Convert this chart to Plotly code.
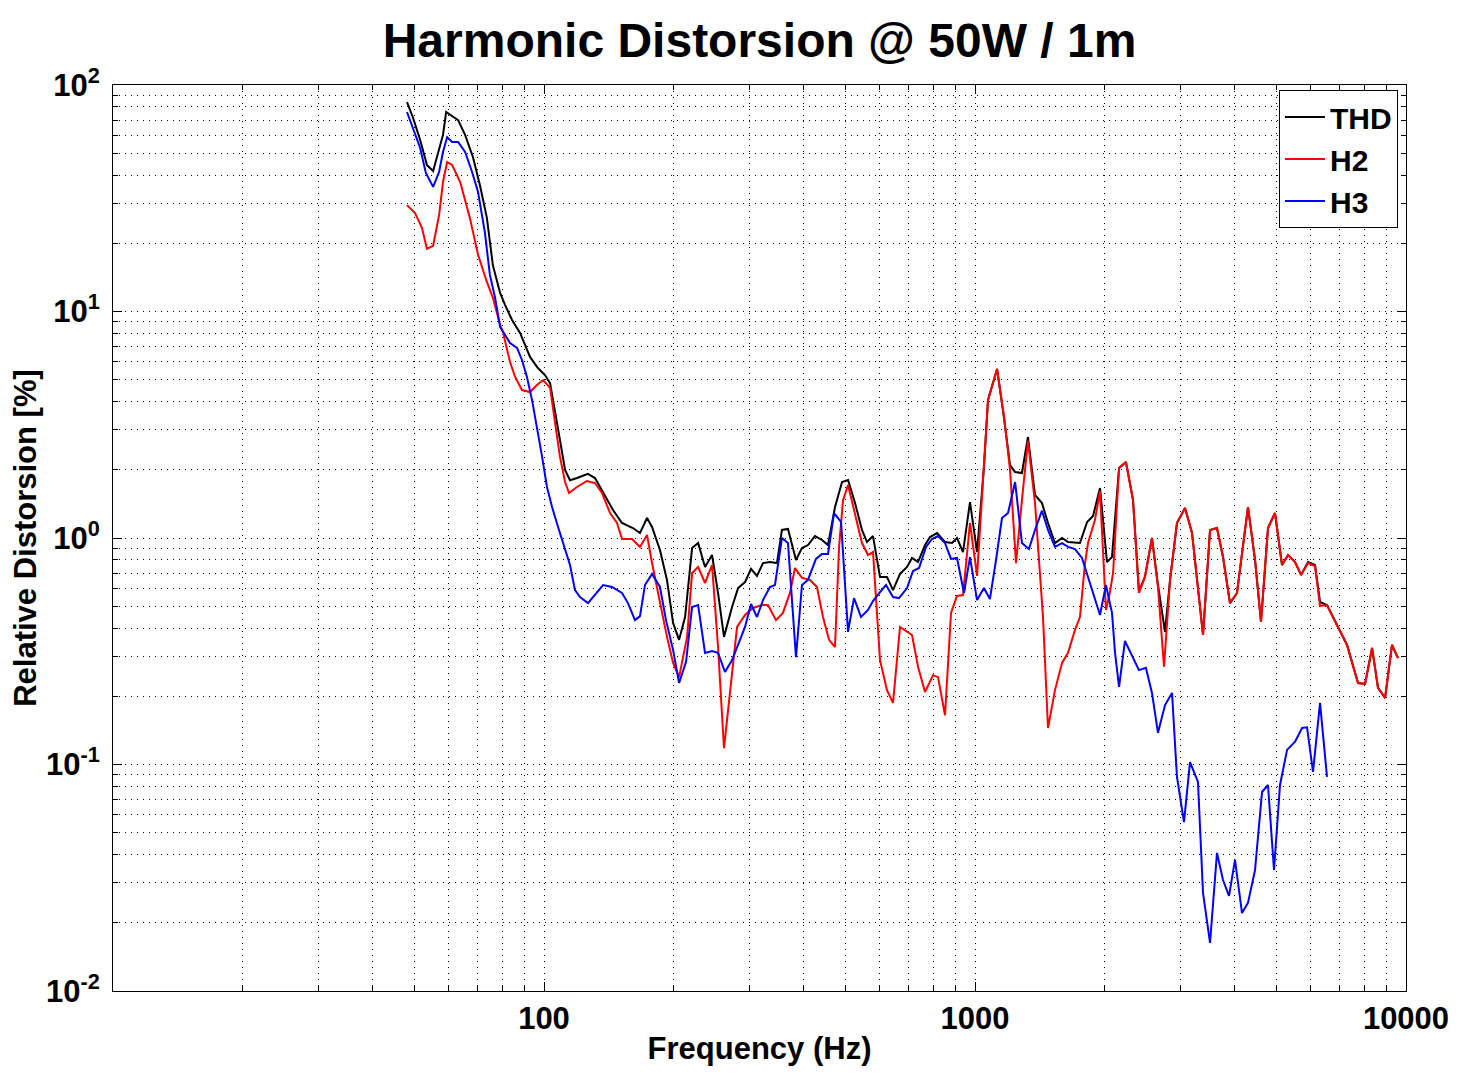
import plotly.graph_objects as go

# ---------------- data ----------------
thd_freq = [48.1, 49.7, 51.6, 53.5, 55.3, 57.1, 58.3, 59.3, 61.2, 63.2, 65.6, 68.4, 71.0, 73.7, 76.1,
            79.1, 81.2, 84.3, 88.0, 92.8, 96.8, 100.5, 103.3, 106.1, 108.9, 111.9, 114.9, 119.3, 126.5,
            131.3, 137.1, 144.6, 151.7, 160.8, 167.0, 173.4, 178.1, 185.8, 192.9, 199.3, 205.8, 212.5,
            220.6, 227.8, 236.4, 245.4, 253.4, 261.6, 273.1, 282.0, 292.7, 302.2, 312.0, 322.2, 334.4,
            347.1, 356.5, 368.2, 384.3, 396.8, 409.7, 425.3, 441.6, 456.0, 473.4, 491.5, 507.5, 526.8,
            546.7, 561.6, 579.9, 602.0, 624.9, 645.3, 669.9, 695.5, 714.3, 737.6, 765.7, 786.4, 816.3,
            852.0, 884.4, 908.3, 938.0, 973.6, 1011, 1049, 1072, 1125, 1161, 1206, 1239, 1285, 1327,
            1378, 1430, 1477, 1533, 1592, 1644, 1752, 1820, 1879, 1950, 2024, 2079, 2159, 2240, 2326,
            2401, 2479, 2574, 2658, 2760, 2835, 2942, 3071, 3188, 3291, 3381, 3510, 3643, 3762, 3905,
            4054, 4299, 4464, 4609, 4784, 4967, 5156, 5325, 5528, 5708, 5926, 6150, 6317, 6557, 6769,
            7298, 7738, 8036, 8342, 8610, 8942, 9280, 9581]
thd = [84.1, 71.5, 57.2, 44.4, 41.7, 51.6, 60.2, 76.0, 73.0, 70.0, 60.2, 48.1, 36.2, 25.9, 16.0,
       12.07, 10.7, 9.17, 8.04, 6.30, 5.63, 5.24, 4.83, 3.67, 2.71, 2.00, 1.80, 1.84, 1.92,
       1.84, 1.60, 1.33, 1.165, 1.107, 1.052, 1.225, 1.118, 0.885, 0.653, 0.421, 0.355, 0.448,
       0.903, 0.950, 0.745, 0.841, 0.572, 0.366, 0.496, 0.601, 0.639, 0.730, 0.680, 0.775, 0.783,
       0.775, 1.085, 1.096, 0.800, 0.903, 0.931, 1.020, 0.980, 0.931, 1.370, 1.767, 1.804, 1.427,
       1.085, 0.960, 1.020, 0.673, 0.673, 0.589, 0.694, 0.745, 0.816, 0.783, 0.931, 1.010, 1.052,
       0.960, 0.950, 1.000, 0.867, 1.441, 0.867, 2.058, 4.07, 5.574, 3.673, 2.100, 1.956, 1.936, 2.792,
       1.548, 1.427, 1.165, 0.950, 1.000, 0.960, 0.950, 1.177, 1.251, 1.663, 0.783, 0.824, 2.037, 2.165, 1.47,
       0.583, 0.673, 1.000, 0.620, 0.385, 0.653, 1.165, 1.357, 1.052, 0.608, 0.373, 1.085, 1.107, 0.824, 0.516,
       0.572, 1.370, 0.800, 0.426, 1.107, 1.289, 0.760, 0.841, 0.783, 0.687, 0.783, 0.760, 0.522, 0.506, 0.448,
       0.337, 0.229, 0.227, 0.327, 0.218, 0.197, 0.337, 0.295]

h2_freq = [48.1, 50.2, 52.1, 53.5, 55.3, 57.1, 58.3, 59.6, 61.2, 63.9, 67.3, 70.3, 73.7, 76.1, 79.1,
           80.4, 83.4, 85.7, 88.9, 92.8, 96.3, 99.5, 103.3, 106.1, 108.9, 111.9, 114.3, 119.3, 125.8,
           131.3, 136.3, 142.3, 147.7, 151.7, 160.0, 167.0, 173.4, 178.1, 185.8, 192.9, 199.3, 205.8,
           214.8, 220.6, 227.8, 236.4, 245.4, 253.4, 261.6, 270.2, 280.5, 292.7, 305.4, 320.5, 330.9,
           345.3, 358.4, 372.2, 382.3, 396.8, 414.1, 429.9, 443.9, 458.5, 473.4, 483.7, 494.1, 507.5,
           526.8, 546.7, 564.6, 579.9, 602.0, 624.9, 645.3, 669.9, 714.3, 737.6, 765.7, 799.2, 820.8,
           852.0, 879.7, 908.3, 938.0, 973.6, 1011, 1049, 1072, 1125, 1168, 1206, 1245, 1285, 1327,
           1378, 1438, 1477, 1533, 1592, 1644, 1706, 1752, 1800, 1829, 1898, 1950, 2013, 2057, 2091,
           2159, 2240, 2326, 2401, 2479, 2574, 2658, 2745, 2835, 2942, 3071, 3188, 3291, 3381, 3510,
           3643, 3762, 3905, 4054, 4299, 4464, 4609, 4784, 4967, 5156, 5325, 5528, 5708, 5926, 6150,
           6317, 6557, 6769, 7298, 7738, 8036, 8342, 8610, 8942, 9280, 9581]
h2 = [29.5, 27.2, 23.4, 18.9, 19.5, 26.7, 37.3, 45.7, 44.4, 37.3, 25.9, 17.8, 13.5, 11.5, 8.72,
      8.04, 5.98, 5.14, 4.50, 4.41, 4.74, 4.98, 4.60, 3.22, 2.28, 1.767, 1.580, 1.680, 1.785,
      1.749, 1.580, 1.289, 1.165, 0.990, 0.990, 0.913, 1.031, 0.775, 0.516, 0.366, 0.281, 0.243,
      0.366, 0.701, 0.745, 0.633, 0.760, 0.330, 0.118, 0.207, 0.405, 0.457, 0.491, 0.506, 0.506,
      0.434, 0.467, 0.572, 0.737, 0.666, 0.653, 0.608, 0.448, 0.355, 0.330, 0.913, 1.47, 1.714,
      1.289, 0.950, 0.841, 0.867, 0.289, 0.213, 0.187, 0.405, 0.373, 0.270, 0.209, 0.248, 0.243,
      0.165, 0.467, 0.555, 0.560, 1.165, 0.680, 2.058, 4.07, 5.574, 3.421, 2.00, 0.775, 1.47, 2.682,
      1.427, 0.448, 0.145, 0.213, 0.281, 0.311, 0.393, 0.448, 0.775, 0.950, 1.20, 1.612, 0.481, 0.577, 0.701,
      2.037, 2.165, 1.47, 0.572, 0.673, 1.000, 0.608, 0.270, 0.653, 1.165, 1.357, 1.052, 0.589, 0.373, 1.085,
      1.107, 0.824, 0.516, 0.572, 1.370, 0.800, 0.426, 1.107, 1.289, 0.760, 0.841, 0.783, 0.687, 0.775, 0.752,
      0.501, 0.506, 0.448, 0.337, 0.229, 0.227, 0.327, 0.218, 0.197, 0.337, 0.295]

h3_freq = [48.1, 49.7, 51.6, 53.2, 55.3, 57.1, 58.3, 59.6, 61.2, 63.2, 65.6, 68.1, 70.3, 72.9, 74.9,
           77.0, 79.1, 83.4, 86.6, 88.9, 91.3, 93.8, 96.3, 99.0, 101.6, 104.4, 107.8, 111.9, 114.9,
           118.0, 121.2, 126.5, 131.3, 137.1, 143.8, 151.7, 156.6, 162.6, 167.0, 171.5, 178.1, 185.8,
           191.9, 199.3, 205.8, 213.6, 220.6, 227.8, 236.4, 245.4, 253.4, 263.0, 273.1, 282.0, 292.7,
           302.2, 312.0, 322.2, 334.4, 343.5, 356.5, 368.2, 384.3, 396.8, 409.7, 427.6, 441.6, 456.0,
           470.9, 488.9, 507.5, 524.0, 543.9, 564.6, 579.9, 602.0, 621.6, 645.3, 666.4, 695.5, 718.1,
           741.6, 769.8, 794.9, 820.8, 852.0, 879.7, 908.3, 943.0, 973.6, 1011, 1049, 1083, 1119, 1155,
           1193, 1239, 1285, 1334, 1378, 1430, 1477, 1533, 1592, 1644, 1706, 1771, 1829, 1898, 1950,
           2013, 2079, 2113, 2159, 2228, 2313, 2401, 2492, 2574, 2658, 2760, 2865, 2942, 3054, 3154,
           3291, 3381, 3510, 3643, 3762, 3885, 4011, 4164, 4299, 4464, 4634, 4784, 4940, 5101, 5297,
           5528, 5739, 5894, 6085, 6317, 6557]
h3 = [76.0, 64.6, 52.7, 40.9, 35.5, 41.3, 50.6, 58.9, 56.0, 56.0, 50.6, 41.3, 33.7, 22.4, 14.5,
      11.5, 8.55, 7.26, 6.90, 6.11, 5.14, 4.07, 3.09, 2.28, 1.680, 1.370, 1.118, 0.903, 0.760,
      0.589, 0.549, 0.516, 0.560, 0.620, 0.608, 0.572, 0.516, 0.434, 0.452, 0.620, 0.694, 0.608,
      0.434, 0.320, 0.229, 0.284, 0.496, 0.506, 0.311, 0.317, 0.311, 0.256, 0.289, 0.337, 0.405,
      0.511, 0.448, 0.532, 0.608, 0.620, 1.000, 0.950, 0.298, 0.620, 0.653, 0.808, 0.850, 0.850,
      1.289, 1.177, 0.385, 0.543, 0.448, 0.481, 0.527, 0.577, 0.620, 0.549, 0.543, 0.601, 0.715,
      0.737, 0.913, 0.990, 1.020, 0.950, 0.808, 0.816, 0.572, 0.824, 0.532, 0.601, 0.538, 0.800, 1.225,
      1.289, 1.767, 0.950, 0.894, 1.085, 1.32, 1.085, 0.913, 0.950, 0.913, 0.894, 0.816, 0.673, 0.543, 0.457,
      0.620, 0.467, 0.311, 0.220, 0.351, 0.304, 0.261, 0.267, 0.207, 0.138, 0.183, 0.207, 0.0881, 0.0557, 0.1025,
      0.0837, 0.0271, 0.0163, 0.0407, 0.0309, 0.0263, 0.0379, 0.0221, 0.0245, 0.0342, 0.0756, 0.0812, 0.0342, 0.0812, 0.116,
      0.126, 0.145, 0.146, 0.0927, 0.187, 0.0881]

x_tickvals = [100, 1000, 10000]
x_ticktext = ["100", "1000", "10000"]
y_tickvals = [0.01, 0.1, 1, 10, 100]
y_ticktext = ["10<sup>-2</sup>", "10<sup>-1</sup>", "10<sup>0</sup>", "10<sup>1</sup>", "10<sup>2</sup>"]
x_minor = [m * d for d in (10, 100, 1000) for m in range(2, 10)]
y_minor = [m * d for d in (0.01, 0.1, 1, 10) for m in range(2, 10)]

FONT = "Liberation Sans, Arial, Helvetica, sans-serif"
DOTS = "1px,5px"

fig = go.Figure()
fig.add_trace(go.Scatter(x=thd_freq, y=thd, mode="lines", name="THD",
                         line=dict(color="#000000", width=2)))
fig.add_trace(go.Scatter(x=h2_freq, y=h2, mode="lines", name="H2",
                         line=dict(color="#ff0000", width=2)))
fig.add_trace(go.Scatter(x=h3_freq, y=h3, mode="lines", name="H3",
                         line=dict(color="#0000ff", width=2)))

axis_common = dict(
    showline=True, linecolor="black", linewidth=1, mirror="ticks",
    ticks="inside", ticklen=9, tickcolor="black", tickwidth=1,
    showgrid=True, gridcolor="black", gridwidth=1, griddash=DOTS,
    zeroline=False,
    tickfont=dict(family=FONT, size=31, color="black", weight="bold"),
)

fig.update_xaxes(
    type="log", range=[1, 4],
    tickmode="array", tickvals=x_tickvals, ticktext=x_ticktext,
    minor=dict(tickmode="array", tickvals=x_minor, ticks="inside", ticklen=5,
               tickcolor="black", showgrid=True, gridcolor="black", griddash=DOTS, gridwidth=1),
    title=dict(text="Frequency (Hz)", font=dict(family=FONT, size=31, color="black", weight="bold"),
               standoff=2),
    **axis_common,
)
fig.update_yaxes(
    type="log", range=[-2, 2],
    tickmode="array", tickvals=y_tickvals, ticktext=y_ticktext,
    ticklabelstandoff=6,
    minor=dict(tickmode="array", tickvals=y_minor, ticks="inside", ticklen=5,
               tickcolor="black", showgrid=True, gridcolor="black", griddash=DOTS, gridwidth=1),
    title=dict(text="Relative Distorsion [%]", font=dict(family=FONT, size=31, color="black", weight="bold"),
               standoff=4),
    **axis_common,
)

# the page body adds an 8px margin, so the figure is 8px smaller and margins shifted
fig.update_layout(
    width=1459, height=1074,
    margin=dict(l=105, r=61, t=77, b=91),
    paper_bgcolor="white", plot_bgcolor="white",
    title=dict(text="Harmonic Distorsion @ 50W / 1m", x=0.5151, xanchor="center", y=0.970, yanchor="middle",
               font=dict(family=FONT, size=48, color="black", weight="bold")),
    legend=dict(x=0.9938, y=0.9945, xanchor="right", yanchor="top",
                bgcolor="white", bordercolor="black", borderwidth=1,
                font=dict(family=FONT, size=30, color="black", weight="bold"),
                tracegroupgap=0, itemwidth=40),
    showlegend=True,
)

fig.write_html("out.html")
